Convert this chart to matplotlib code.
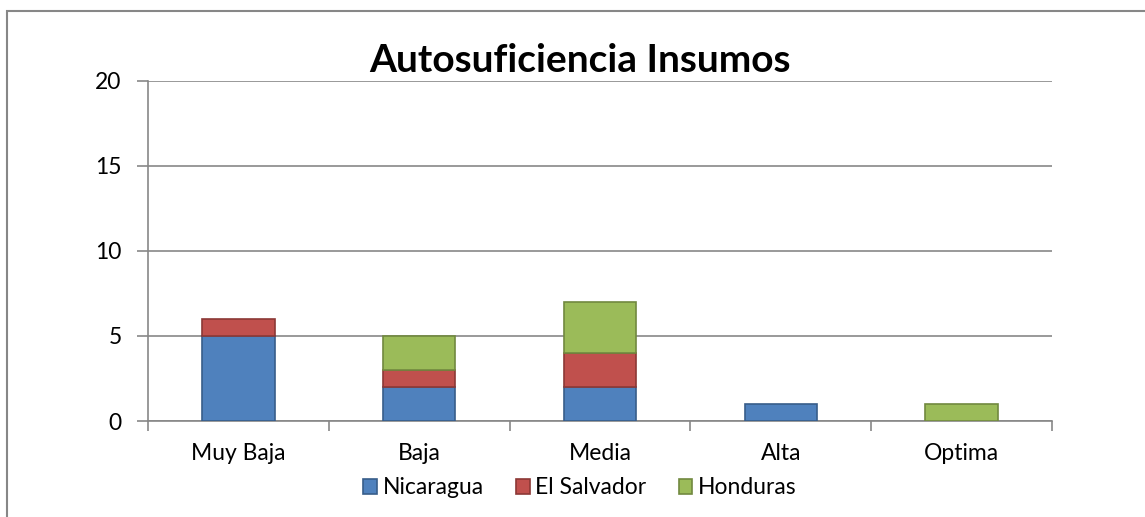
import matplotlib.pyplot as plt
from matplotlib.patches import Rectangle
import numpy as np

categories = ['Muy Baja', 'Baja', 'Media', 'Alta', 'Optima']
nicaragua = [5, 2, 2, 1, 0]
el_salvador = [1, 1, 2, 0, 0]
honduras = [0, 2, 3, 0, 1]

series = [
    ('Nicaragua', nicaragua, '#4F81BD', '#385D8A'),
    ('El Salvador', el_salvador, '#C0504D', '#8C3836'),
    ('Honduras', honduras, '#9BBB59', '#71893F'),
]

plt.rcParams['font.family'] = ['Lato', 'DejaVu Sans']

fig = plt.figure(figsize=(11.45, 5.17), dpi=100)
ax = fig.add_axes([148 / 1145, 1 - 421 / 517, 904 / 1145, 340 / 517])

# border of the chart area (only left/top visible in the original)
fig.patches.append(Rectangle((7 / 1145, -0.1), 1.2, (517 - 11) / 517 + 0.1,
                             transform=fig.transFigure, fill=False,
                             edgecolor='#878787', linewidth=1.5))

x = np.arange(len(categories))
bottom = np.zeros(len(categories))
handles = []
for name, vals, color, edge in series:
    vals = np.array(vals, dtype=float)
    keep = vals > 0
    b = ax.bar(x[keep], vals[keep], width=0.4, bottom=bottom[keep], color=color,
               edgecolor=edge, linewidth=1.2, label=name, zorder=3)
    handles.append(b)
    bottom += vals

ax.set_xlim(-0.5, len(categories) - 0.5)
ax.set_ylim(0, 20)
ax.set_yticks([0, 5, 10, 15, 20])
ax.yaxis.grid(True, color='#878787', linewidth=1.2, zorder=0)
ax.set_axisbelow(True)

ax.set_xticks(x)
ax.set_xticklabels(categories, fontsize=16.5)
ax.set_xticks(np.arange(len(categories) + 1) - 0.5, minor=True)
ax.tick_params(axis='x', which='major', length=0, pad=16)
ax.tick_params(axis='x', which='minor', length=7, width=1.2, color='#878787')
ax.tick_params(axis='y', length=8, width=1.2, color='#878787', labelsize=16.5, pad=11)

for s in ['top', 'right']:
    ax.spines[s].set_visible(False)
for s in ['left', 'bottom']:
    ax.spines[s].set_color('#878787')
    ax.spines[s].set_linewidth(1.2)

fig.text(580 / 1145, 1 - 60 / 517, 'Autosuficiencia Insumos', fontsize=28,
         fontweight='bold', ha='center', va='center')

fig.legend(handles=handles, loc='center', bbox_to_anchor=(580 / 1145, 1 - 488 / 517),
           ncol=3, frameon=False, fontsize=16.5, handlelength=0.6, handleheight=0.6,
           handletextpad=0.25, columnspacing=1.4)

fig.savefig('out.png', dpi=100)
